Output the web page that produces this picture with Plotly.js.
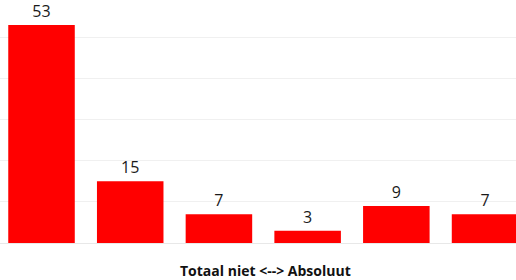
<!DOCTYPE html>
<html>
<head>
<meta charset="utf-8">
<script src="https://cdn.plot.ly/plotly-3.0.1.min.js"></script>
<style>html,body{margin:0;padding:0;background:#fff;}#chart{width:516px;height:280px;}</style>
</head>
<body>
<div id="chart"></div>
<script>
var categories = ["1", "2", "3", "4", "5", "6"];
var values = [53, 15, 7, 3, 9, 7];
var xTitle = "Totaal niet <--> Absoluut";

var positions = categories.map(function (c, i) { return i; });

var trace = {
  type: "bar",
  x: positions,
  y: values,
  text: values.map(String),
  textposition: "outside",
  cliponaxis: false,
  textfont: {family: "Open Sans, sans-serif", size: 16, color: "#1a1a1a"},
  marker: {color: "#ff0000", line: {width: 0}},
  hoverinfo: "none"
};

var layout = {
  width: 516,
  height: 280,
  margin: {l: 0, r: 0, t: 0, b: 37},
  paper_bgcolor: "#fff",
  plot_bgcolor: "#fff",
  bargap: 0.25,
  showlegend: false,
  font: {family: "Open Sans, sans-serif", color: "#222"},
  xaxis: {
    range: [-0.468, 5.349],
    tickvals: positions,
    ticktext: categories,
    showticklabels: false,
    showgrid: false,
    zeroline: false,
    showline: false,
    ticks: ""
  },
  yaxis: {
    range: [0, 59.1],
    dtick: 10,
    showticklabels: false,
    showgrid: true,
    gridcolor: "#f0f0f0",
    gridwidth: 1,
    zeroline: true,
    zerolinecolor: "#e8e8e8",
    zerolinewidth: 1,
    ticks: ""
  },
  annotations: [{
    text: xTitle,
    xref: "paper", yref: "paper",
    x: 265 / 516, y: -27 / 243,
    xanchor: "center", yanchor: "middle",
    showarrow: false,
    font: {family: "Open Sans, sans-serif", size: 14, color: "#111", weight: "bold"}
  }]
};

Plotly.newPlot("chart", [trace], layout, {staticPlot: true, displayModeBar: false});
</script>
</body>
</html>
